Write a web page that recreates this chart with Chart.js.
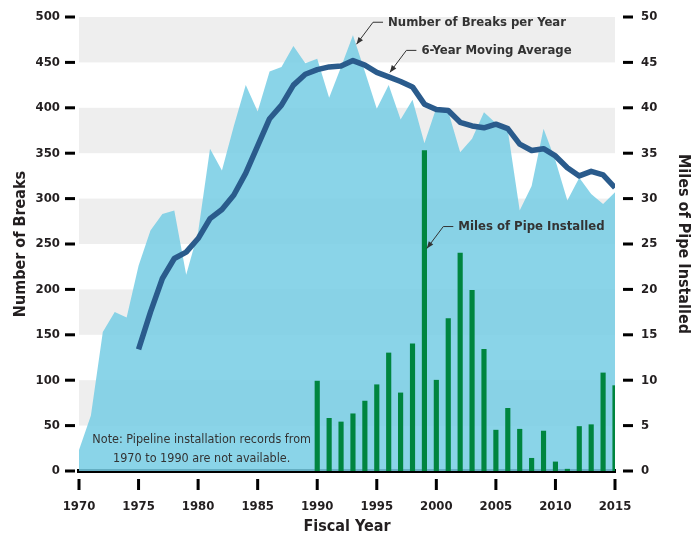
<!DOCTYPE html>
<html>
<head>
<meta charset="utf-8">
<script src="https://cdn.jsdelivr.net/npm/chart.js@4.4.1/dist/chart.umd.min.js"></script>
<style>
  html, body { margin: 0; padding: 0; background: #fff; }
</style>
</head>
<body>
<canvas id="grafico" width="693" height="537"></canvas>
<script>
const years = [
	1970, 1971, 1972, 1973, 1974, 1975, 1976, 1977, 1978, 1979,
	1980, 1981, 1982, 1983, 1984, 1985, 1986, 1987, 1988, 1989,
	1990, 1991, 1992, 1993, 1994, 1995, 1996, 1997, 1998, 1999,
	2000, 2001, 2002, 2003, 2004, 2005, 2006, 2007, 2008, 2009,
	2010, 2011, 2012, 2013, 2014, 2015];

const breaksPerYear = [
	23, 61, 153, 175, 169, 226, 265, 283, 287, 216,
	263, 355, 331, 380, 425, 396, 440, 445, 468, 449,
	454, 411, 445, 480, 440, 399, 425, 387, 409, 361,
	400, 396, 351, 366, 395, 383, 375, 287, 314, 377,
	342, 298, 323, 305, 294, 307];

const avgYears = [
	1975, 1976, 1977, 1978, 1979, 1980, 1981, 1982, 1983, 1984,
	1985, 1986, 1987, 1988, 1989, 1990, 1991, 1992, 1993, 1994,
	1995, 1996, 1997, 1998, 1999, 2000, 2001, 2002, 2003, 2004,
	2005, 2006, 2007, 2008, 2009, 2010, 2011, 2012, 2013, 2014, 2015];

const movingAverage = [
	134, 175, 212, 234, 241, 256, 278, 288, 304, 328,
	358, 388, 403, 425, 437, 442, 445, 446, 452, 447,
	439, 434, 429, 423, 404, 398, 397, 384, 380, 378,
	382, 377, 360, 353, 355, 347, 334, 325, 330, 326, 312];

const pipeYears = [
	1990, 1991, 1992, 1993, 1994, 1995, 1996, 1997, 1998, 1999,
	2000, 2001, 2002, 2003, 2004, 2005, 2006, 2007, 2008, 2009,
	2010, 2011, 2012, 2013, 2014, 2015];

const milesInstalled = [
	9.9, 5.8, 5.4, 6.3, 7.7, 9.5, 13.0, 8.6, 14.0, 35.3,
	10.0, 16.8, 24.0, 19.9, 13.4, 4.5, 6.9, 4.6, 1.4, 4.4,
	1.0, 0.2, 4.9, 5.1, 10.8, 9.4];

const yearTicks = [1970, 1975, 1980, 1985, 1990, 1995, 2000, 2005, 2010, 2015];

// callouts: label, axis, anchor x (year), anchor y (axis value)
const callouts = [
	{ text: 'Number of Breaks per Year', axis: 'y', x: 1993.3, y: 470 },
	{ text: '6-Year Moving Average', axis: 'y', x: 1996.1, y: 439 },
	{ text: 'Miles of Pipe Installed', axis: 'y2', x: 1999.2, y: 24.5 }
];

const noteLines = ['Note: Pipeline installation records from', '1970 to 1990 are not available.'];

const fam = "'Liberation Sans Narrow', 'DejaVu Sans Condensed', 'Roboto Condensed', 'Liberation Sans', sans-serif";
Chart.defaults.font.family = fam;
Chart.defaults.color = '#231f20';

const extras = {
	id: 'extras',
	beforeDatasetsDraw(chart) {
		const c = chart.ctx, a = chart.chartArea, ys = chart.scales.y;
		c.save();
		c.fillStyle = '#eeeeee';
		[450, 350, 250, 150, 50].forEach(v => {
			const t = ys.getPixelForValue(v + 50), b = ys.getPixelForValue(v);
			c.fillRect(a.left, t, a.right - a.left, b - t);
		});
		c.restore();
	},
	afterDraw(chart) {
		const c = chart.ctx, a = chart.chartArea;
		const xs = chart.scales.x;
		c.save();
		c.fillStyle = '#000';
		chart.scales.y.ticks.forEach(t => {
			const p = chart.scales.y.getPixelForValue(t.value);
			c.fillRect(a.left - 14, p - 1.5, 10, 3);
		});
		chart.scales.y2.ticks.forEach(t => {
			const p = chart.scales.y2.getPixelForValue(t.value);
			c.fillRect(a.right + 8, p - 1.5, 10, 3);
		});
		xs.ticks.forEach(t => {
			const p = xs.getPixelForValue(t.value);
			c.fillRect(p - 1.5, a.bottom + 8, 3, 11);
		});

		// callouts
		c.strokeStyle = '#333';
		c.fillStyle = '#333';
		c.lineWidth = 1;
		c.font = 'bold 13px ' + fam;
		c.textBaseline = 'middle';
		c.textAlign = 'left';
		callouts.forEach(k => {
			const tx = xs.getPixelForValue(k.x);
			const ty = chart.scales[k.axis].getPixelForValue(k.y);
			const ex = tx + 16.5, ey = ty - 22;
			c.beginPath();
			c.moveTo(tx, ty);
			c.lineTo(ex, ey);
			c.lineTo(ex + 10, ey);
			c.stroke();
			const ang = Math.atan2(ty - ey, tx - ex);
			c.beginPath();
			c.moveTo(tx, ty);
			c.lineTo(tx - 7 * Math.cos(ang) + 2.8 * Math.sin(ang), ty - 7 * Math.sin(ang) - 2.8 * Math.cos(ang));
			c.lineTo(tx - 7 * Math.cos(ang) - 2.8 * Math.sin(ang), ty - 7 * Math.sin(ang) + 2.8 * Math.cos(ang));
			c.closePath();
			c.fill();
			c.fillText(k.text, ex + 15, ey);
		});

		// note
		c.font = '12.5px ' + fam;
		c.textAlign = 'center';
		const nx = xs.getPixelForValue(1980.3);
		const ny = chart.scales.y.getPixelForValue(34);
		noteLines.forEach((l, i) => c.fillText(l, nx, ny + i * 19));
		c.restore();
	}
};

// keep the y axes from pushing the plot down (tick padding counts as top padding)
function fixY(w) {
	return s => { s.width = w; s.paddingTop = 8; s.paddingBottom = 8; };
}

let ctx = document.getElementById('grafico').getContext('2d');

new Chart(ctx, {
	type: 'bar',
	data: {
		datasets: [
			{
				type: 'line',
				label: 'Number of Breaks per Year',
				data: years.map((y, i) => ({ x: y, y: breaksPerYear[i] })),
				yAxisID: 'y',
				fill: 'origin',
				backgroundColor: 'rgba(118, 204, 228, 0.85)',
				borderWidth: 0,
				pointRadius: 0,
				tension: 0,
				order: 3
			},
			{
				type: 'bar',
				label: 'Miles of Pipe Installed',
				data: pipeYears.map((y, i) => ({ x: y, y: milesInstalled[i] })),
				yAxisID: 'y2',
				backgroundColor: '#00853f',
				barThickness: 4.5,
				order: 2
			},
			{
				type: 'line',
				label: '6-Year Moving Average',
				data: avgYears.map((y, i) => ({ x: y, y: movingAverage[i] })),
				yAxisID: 'y',
				borderColor: '#2a5b8c',
				borderWidth: 5.5,
				borderJoinStyle: 'round',
				pointRadius: 0,
				fill: false,
				tension: 0,
				order: 1
			}
		]
	},
	options: {
		responsive: false,
		animation: false,
		devicePixelRatio: 1,
		layout: { padding: { top: 17, left: 0, right: 0, bottom: 0 } },
		plugins: { legend: { display: false }, tooltip: { enabled: false } },
		scales: {
			x: {
				type: 'linear',
				min: 1970,
				max: 2015,
				offset: false,
				grid: { display: false, drawTicks: false },
				border: { display: true, color: '#000', width: 4 },
				afterBuildTicks: s => { s.ticks = yearTicks.map(v => ({ value: v })); },
				afterFit: s => { s.height = 66; },
				ticks: {
					padding: 28,
					maxRotation: 0,
					autoSkip: false,
					font: { size: 13, weight: 'bold' },
					callback: v => String(v)
				},
				title: {
					display: true,
					text: 'Fiscal Year',
					font: { size: 16, weight: 'bold' },
					padding: { top: 0, bottom: 1 }
				}
			},
			y: {
				position: 'left',
				min: 0,
				max: 500,
				grid: { display: false, drawTicks: false },
				border: { display: false },
				afterFit: fixY(79),
				ticks: { stepSize: 50, padding: 19, font: { size: 13, weight: 'bold' } },
				title: {
					display: true,
					text: 'Number of Breaks',
					font: { size: 16, weight: 'bold' },
					padding: { top: 11, bottom: 0 }
				}
			},
			y2: {
				position: 'right',
				min: 0,
				max: 50,
				grid: { display: false, drawTicks: false },
				border: { display: false },
				afterFit: fixY(78),
				ticks: { stepSize: 5, padding: 26, font: { size: 13, weight: 'bold' } },
				title: {
					display: true,
					text: 'Miles of Pipe Installed',
					font: { size: 16, weight: 'bold' },
					padding: { top: 0, bottom: 2 }
				}
			}
		}
	},
	plugins: [extras]
});
</script>
</body>
</html>
